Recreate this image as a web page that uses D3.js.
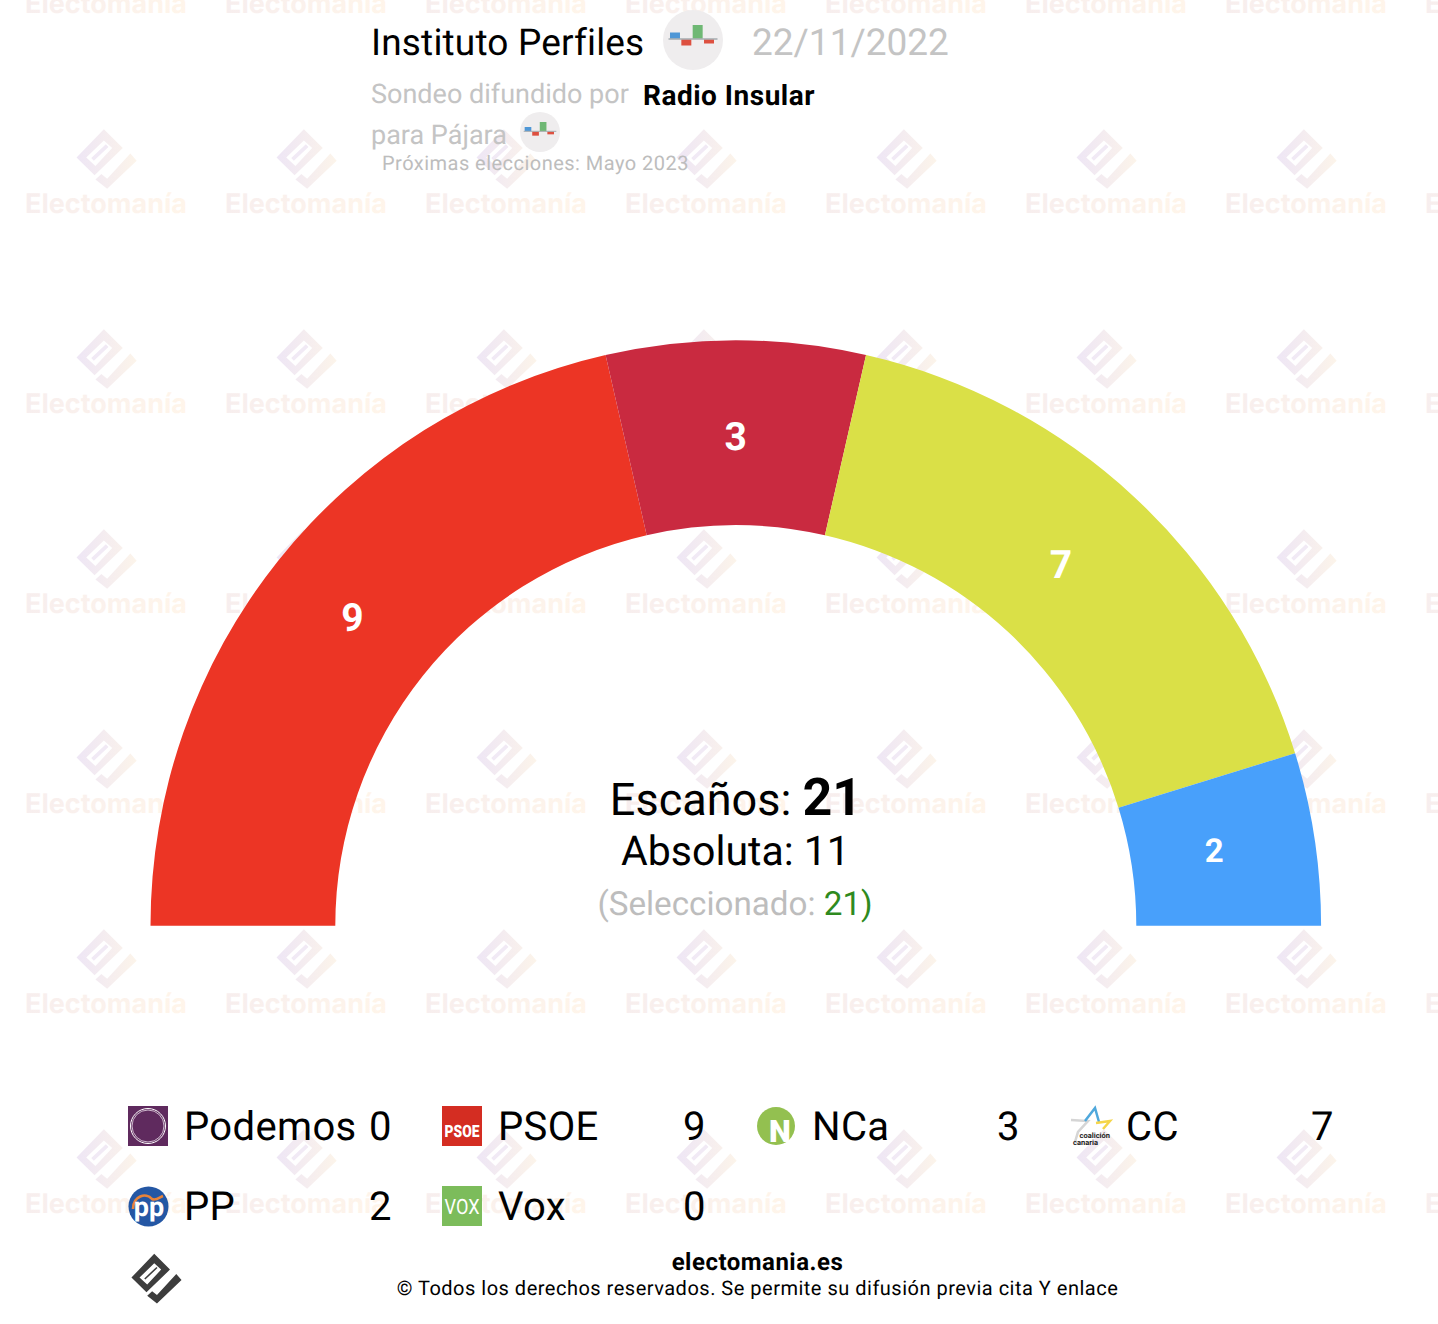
<!DOCTYPE html>
<html><head><meta charset="utf-8">
<script src="https://cdn.jsdelivr.net/npm/d3@7"></script>
<style>html,body{margin:0;padding:0;background:#fff}svg{display:block}text{font-family:Roboto,sans-serif;text-rendering:geometricPrecision}</style>
</head><body><div id="chart"></div>
<script>
const parties = ["Podemos","PSOE","NCa","CC","PP","Vox"];
const seats = [0,9,3,7,2,0];
const sectorColors = ["#5f2a5e","#ec3525","#c92a40","#dae047","#48a0fb","#7cbc5b"];
const labelNudgeX = [0,2,0,-10,-9,0];
const labelNudgeY = [0,2,7.5,3,-1,0];
const totalSeats = 21, majority = 11, selected = 21;
const wmCols = d3.range(8), wmRows = d3.range(7);
const miniBars = [6.5,-6.5,14,-4.5];
const miniColors = ["#4f97d6","#dd5040","#6fb874","#dd5040"];

const W = 1438, H = 1324;
const svg = d3.select("#chart").append("svg").attr("width",W).attr("height",H).attr("viewBox",[0,0,W,H]);
const defs = svg.append("defs");
function grad(id,a,b){const g=defs.append("linearGradient").attr("id",id);
  g.append("stop").attr("offset","0%").attr("stop-color",a);
  g.append("stop").attr("offset","100%").attr("stop-color",b);}
grad("wmLogo","#eee6f5","#fcf4ea");
grad("wmText","#f7eeee","#fff5ea");

const logoPath = "M0.7,-23.3L15.7,-8.3L-6.7,13.3L-21,-0.7Z M-13.3,-0.7L-6,6L7.3,-8.3L0.7,-14.3Z M21.7,-4L26.7,1.7L3.3,24L-6,16.7L-1.3,12.3L3.3,16Z";
const logoBar = "M-8.3,0.7L3.3,-10.3";

// watermark
const wm = svg.append("g").selectAll("g").data(d3.cross(wmCols,wmRows)).join("g")
  .attr("transform",d=>`translate(${106+d[0]*200},${-40+d[1]*200})`);
wm.append("path").attr("d",logoPath).attr("fill-rule","evenodd").attr("fill","url(#wmLogo)")
  .attr("transform","translate(-3,-1.5) scale(1.26)");
wm.append("path").attr("d",logoBar).attr("stroke","#f1eaf5").attr("stroke-width",3).attr("fill","none")
  .attr("transform","translate(-3,-1.5) scale(1.26)");
wm.append("text").text("Electomanía").attr("text-anchor","middle").attr("y",53)
  .attr("font-weight",700).attr("font-size",27).style("font-family","Inter,sans-serif").attr("fill","url(#wmText)");

// gauge
const cx=735.8, cy=925.7, R=585.3, r0=400.5;
const pie = d3.pie().sort(null).value(d=>d.v).startAngle(-Math.PI/2).endAngle(Math.PI/2);
const arc = d3.arc().innerRadius(r0).outerRadius(R);
const rows = parties.map((p,i)=>({p,v:seats[i],c:sectorColors[i],nx:labelNudgeX[i],ny:labelNudgeY[i]}));
const g = svg.append("g").attr("transform",`translate(${cx},${cy})`);
const arcs = pie(rows);
g.selectAll("path").data(arcs).join("path").attr("d",arc).attr("fill",d=>d.data.c);
g.selectAll("text").data(arcs.filter(d=>d.data.v>0)).join("text")
  .attr("transform",d=>{const c=arc.centroid(d);return `translate(${c[0]+d.data.nx},${c[1]+d.data.ny})`;})
  .attr("text-anchor","middle")
  .attr("dy",d=>d.data.v<3?"0.33em":"0.26em")
  .attr("font-weight",700).attr("font-size",d=>d.data.v<3?33:39).attr("fill","#fff").text(d=>d.data.v);

// centre
function tx(x,y,size,fill,weight,anchor,ls){return svg.append("text").attr("x",x).attr("y",y).attr("font-size",size)
  .attr("fill",fill).attr("font-weight",weight||400).attr("text-anchor",anchor||"start").attr("letter-spacing",ls||0);}
const t1=tx(736,814.5,45,"#000",400,"middle"); t1.append("tspan").text("Escaños: ");
t1.append("tspan").attr("font-weight",700).attr("font-size",52).text(totalSeats);
tx(735.5,864.5,41,"#000",400,"middle").text("Absoluta: "+majority);
const t3=tx(735,915,33.2,"#bdbdbd",400,"middle"); t3.append("tspan").text("(Seleccionado: ");
t3.append("tspan").attr("fill","#2f8a1e").text(selected+")");

// header
tx(371,55,37,"#000",400,"start",0.17).text("Instituto Perfiles");
tx(752,55,37,"#c4c4c4").text("22/11/2022");
tx(371,103,27,"#c4c4c4").text("Sondeo difundido por");
tx(643,105,28,"#000",700,"start",0.5).text("Radio Insular");
tx(371,144,27,"#c4c4c4").text("para Pájara");
tx(382,170,20,"#bdbdbd",400,"start",0.47).text("Próximas elecciones: Mayo 2023");

function mini(x,y,rad){const k=rad/30;const m=svg.append("g").attr("transform",`translate(${x},${y}) scale(${k})`);
  m.append("circle").attr("r",30).attr("fill","#efedee");
  const bx=d3.scaleBand().domain(d3.range(miniBars.length)).range([-23,21]).paddingInner(0.12);
  const by=d3.scaleLinear().domain([0,1]).range([-1,-2]);
  m.selectAll("rect").data(miniBars).join("rect").attr("x",(d,i)=>bx(i)).attr("width",bx.bandwidth())
    .attr("y",d=>d>0?by(d):-1).attr("height",d=>Math.abs(d)).attr("fill",(d,i)=>miniColors[i]);
  m.append("rect").attr("x",-24.5).attr("width",49).attr("y",-1.8).attr("height",1.6).attr("fill","#aab0b4");}
mini(693,40,30); mini(540,132,20);

// legend
const cols=[128,442,756,1070], rowY=[1106,1186];
const leg = svg.append("g").selectAll("g").data(rows).join("g")
  .attr("transform",(d,i)=>`translate(${cols[i%4]},${rowY[Math.floor(i/4)]})`);
leg.append("text").attr("x",56).attr("y",34).attr("font-size",40).attr("letter-spacing",0.35).attr("fill","#000").text(d=>d.p);
leg.append("text").attr("x",263.5).attr("y",34).attr("text-anchor","end").attr("font-size",40).attr("fill","#000").text(d=>d.v);
const icons={
 Podemos(s){s.append("rect").attr("width",40).attr("height",40).attr("fill","#5f2a5e");
  s.append("circle").attr("cx",20).attr("cy",20).attr("r",17.5).attr("fill","none").attr("stroke","#fff").attr("stroke-width",1);
  s.append("circle").attr("cx",20).attr("cy",20).attr("r",16).attr("fill","none").attr("stroke","#e9dce9").attr("stroke-width",.8);},
 PSOE(s){s.append("rect").attr("width",40).attr("height",40).attr("fill","#d42d22");
  s.append("text").attr("x",20).attr("y",31).attr("text-anchor","middle").attr("font-size",17).attr("font-weight",900).attr("fill","#fff").attr("textLength",35).attr("lengthAdjust","spacingAndGlyphs").text("PSOE");},
 NCa(s){s.append("circle").attr("cx",20).attr("cy",20).attr("r",19).attr("fill","#93c050");
  s.append("text").attr("x",24).attr("y",36).attr("text-anchor","middle").attr("font-size",31).attr("font-weight",900).attr("fill","#fff").text("N");},
 CC(s){s.append("path").attr("d","M1,14L18,15L8,26L5,36").attr("fill","none").attr("stroke","#d5d5d5").attr("stroke-width",2.5);
  s.append("path").attr("d","M15,15L25,2L29,16").attr("fill","none").attr("stroke","#4fa8dc").attr("stroke-width",2.5);
  s.append("path").attr("d","M26,17L40,15L33,23").attr("fill","none").attr("stroke","#f5d54a").attr("stroke-width",2.5);
  s.append("text").attr("x",40).attr("y",32).attr("text-anchor","end").attr("font-size",7.5).attr("font-weight",700).attr("fill","#222").text("coalición");
  s.append("text").attr("x",28).attr("y",38.5).attr("text-anchor","end").attr("font-size",7.5).attr("font-weight",700).attr("fill","#222").text("canaria");},
 PP(s){s.append("circle").attr("cx",20.5).attr("cy",20.5).attr("r",20).attr("fill","#2457a4");
  s.append("path").attr("d","M5,23C5,10 18,6 24,13C28,15 32,11 35,10").attr("fill","none").attr("stroke","#e8833a").attr("stroke-width",2.6);
  s.append("text").attr("x",21).attr("y",29.5).attr("text-anchor","middle").attr("font-size",27).attr("font-weight",700).attr("fill","#fff").text("pp");},
 Vox(s){s.append("rect").attr("width",40).attr("height",40).attr("fill","#7cbc5b");
  s.append("text").attr("x",20).attr("y",27.5).attr("text-anchor","middle").attr("font-size",21).attr("fill","#fff").attr("textLength",35).attr("lengthAdjust","spacingAndGlyphs").text("VOX");}
};
leg.each(function(d){icons[d.p](d3.select(this).append("g"));});

// footer
svg.append("path").attr("d",logoPath).attr("fill-rule","evenodd").attr("fill","#3d3d3d").attr("transform","translate(153.5,1278.3) scale(1.05)");
svg.append("path").attr("d",logoBar).attr("stroke","#3d3d3d").attr("stroke-width",1.5).attr("transform","translate(153.5,1278.3) scale(1.05)");
tx(757.5,1270,24,"#000",700,"middle",0.5).text("electomania.es");
tx(757.5,1295,20,"#000",400,"middle",0.5).text("© Todos los derechos reservados. Se permite su difusión previa cita Y enlace");
</script></body></html>
